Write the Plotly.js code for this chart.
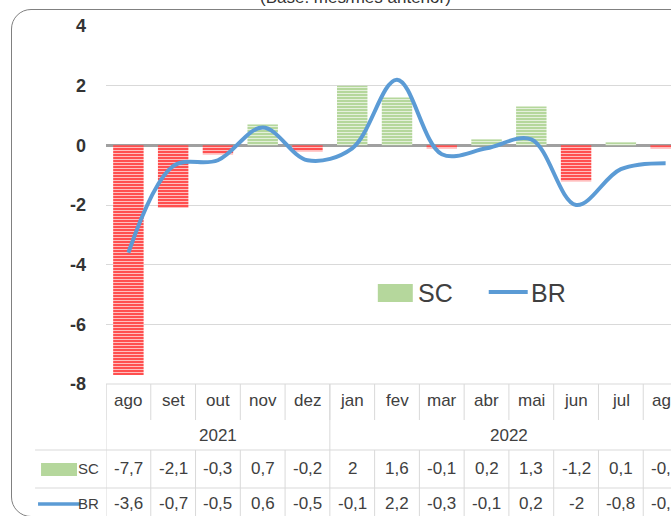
<!DOCTYPE html>
<html><head><meta charset="utf-8">
<script src="https://cdn.plot.ly/plotly-3.0.1.min.js"></script>
<style>
html,body{margin:0;padding:0;overflow:hidden;width:671px;height:516px;background:#fff}
#frame{position:absolute;left:11px;top:9px;width:720px;height:506px;border:1.5px solid #808080;border-radius:20px;}
#chart{position:absolute;left:0;top:0;}
</style></head>
<body>
<div id="frame"></div>
<div id="chart"></div>
<script>
// ---- data ----
const months = ['ago','set','out','nov','dez','jan','fev','mar','abr','mai','jun','jul','ago'];
const years = ['2021','2022'];
const yearFirst = [0, 5];
const yearLast = [4, 12];
const sc = [-7.7, -2.1, -0.3, 0.7, -0.2, 2, 1.6, -0.1, 0.2, 1.3, -1.2, 0.1, -0.1];
const br = [-3.6, -0.7, -0.5, 0.6, -0.5, -0.1, 2.2, -0.3, -0.1, 0.2, -2, -0.8, -0.6];
const yTickVals = [4, 2, 0, -2, -4, -6, -8];
const yTickText = ['4', '2', '0', '-2', '-4', '-6', '-8'];
const seriesNames = ['SC', 'BR'];
const titleText = '(Base: mês/mês anterior)';

// ---- geometry helpers (layout only) ----
const W = 700, H = 516;
const L = 106, R = 11.6, T = 26, B = 132;
const PW = W - L - R, PH = H - T - B;
const px = p => (p - L) / PW;          // pixel x -> paper
const py = p => (H - B - p) / PH;      // pixel y -> paper

const RED = '#ff4f4f', GREEN = '#b5d79c', BLUE = '#5b9bd5', TXT = '#404040', GRID = '#d9d9d9';
const FONT = '"Liberation Sans Narrow", "Arial Narrow", "Liberation Sans", sans-serif';

const idx = months.map((_, i) => i);
const scNeg = sc.map(v => v < 0 ? v : null);
const scPos = sc.map(v => v >= 0 ? v : null);
const fmt = v => String(v).replace('.', ',');

const pat = {shape: '-', fgcolor: '#ffffff', fgopacity: 0.7, size: 3, solidity: 0.3, fillmode: 'overlay'};
const traces = [
  {type: 'bar', x: idx, y: scNeg, width: 0.68, name: seriesNames[0],
   marker: {color: RED, line: {width: 0}, pattern: pat}, hoverinfo: 'skip'},
  {type: 'bar', x: idx, y: scPos, width: 0.68, name: seriesNames[0],
   marker: {color: GREEN, line: {width: 0}, pattern: pat}, hoverinfo: 'skip'},
  {type: 'scatter', mode: 'lines', x: idx, y: br, name: seriesNames[1],
   line: {color: BLUE, width: 4, shape: 'spline', smoothing: 1}, hoverinfo: 'skip'}
];

const ann = [];
const shapes = [];
const cellFont = {family: FONT, size: 17, color: TXT};

// month row
months.forEach((m, i) => ann.push({xref: 'x', yref: 'paper', x: i, y: py(400), text: m, showarrow: false, font: cellFont, xanchor: 'center', yanchor: 'middle'}));
// year row
years.forEach((y, k) => ann.push({xref: 'x', yref: 'paper', x: (yearFirst[k] + yearLast[k]) / 2, y: py(435), text: y, showarrow: false, font: cellFont, xanchor: 'center', yanchor: 'middle'}));
// value rows
sc.forEach((v, i) => ann.push({xref: 'x', yref: 'paper', x: i, y: py(468), text: fmt(v), showarrow: false, font: cellFont, xanchor: 'center', yanchor: 'middle'}));
br.forEach((v, i) => ann.push({xref: 'x', yref: 'paper', x: i, y: py(503), text: fmt(v), showarrow: false, font: cellFont, xanchor: 'center', yanchor: 'middle'}));
// row keys
ann.push({xref: 'paper', yref: 'paper', x: px(101), y: py(468), text: seriesNames[0], showarrow: false, font: {family: FONT, size: 15, color: TXT}, xanchor: 'right', yanchor: 'middle'});
ann.push({xref: 'paper', yref: 'paper', x: px(101), y: py(503), text: seriesNames[1], showarrow: false, font: {family: FONT, size: 15, color: TXT}, xanchor: 'right', yanchor: 'middle'});
// in-plot legend
ann.push({xref: 'paper', yref: 'paper', x: px(416), y: py(293), text: seriesNames[0], showarrow: false, font: {family: FONT, size: 25, color: TXT}, xanchor: 'left', yanchor: 'middle'});
ann.push({xref: 'paper', yref: 'paper', x: px(529), y: py(293), text: seriesNames[1], showarrow: false, font: {family: FONT, size: 25, color: TXT}, xanchor: 'left', yanchor: 'middle'});
// title (cut off at top)
ann.push({xref: 'paper', yref: 'paper', x: px(356), y: py(9), text: titleText, showarrow: false, font: {family: '"Liberation Sans", Arial, sans-serif', size: 17, color: '#333'}, xanchor: 'center', yanchor: 'bottom'});

// table lines
const ln = (xref, x0, x1, yref, y0, y1, color, w) => ({type: 'line', xref, yref, x0, x1, y0, y1, line: {color: color || GRID, width: w || 1}, layer: 'below'});
for (let k = 0; k <= months.length; k++) {
  const xb = k - 0.5;
  shapes.push(ln('x', xb, xb, 'paper', py(384), py(420)));
  shapes.push(ln('x', xb, xb, 'paper', py(450), py(520)));
}
yearFirst.forEach(f => shapes.push(ln('x', f - 0.5, f - 0.5, 'paper', py(384), py(450))));
shapes.push(ln('paper', px(35), 1.1, 'paper', py(450), py(450)));
shapes.push(ln('paper', px(35), 1.1, 'paper', py(488), py(488)));
shapes.push(ln('paper', 0, 1.1, 'paper', py(384), py(384)));

// swatches (legend keys)
function stripes(x0, x1, y0, y1) {
  shapes.push({type: 'rect', xref: 'paper', yref: 'paper', x0: px(x0), x1: px(x1), y0: py(y0), y1: py(y1), fillcolor: GREEN, line: {width: 0}});
  for (let y = y0 + 2.5; y < y1; y += 3) shapes.push(ln('paper', px(x0), px(x1), 'paper', py(y), py(y), 'rgba(255,255,255,0.7)', 1));
}
stripes(378, 413, 284, 302);
stripes(41, 77, 463, 476);
shapes.push({type: 'line', xref: 'paper', yref: 'paper', x0: px(489), x1: px(528), y0: py(292), y1: py(292), line: {color: BLUE, width: 4}});
shapes.push({type: 'line', xref: 'paper', yref: 'paper', x0: px(38), x1: px(80), y0: py(504), y1: py(504), line: {color: BLUE, width: 3.5}});

const layout = {
  width: W, height: H,
  margin: {l: L, r: R, t: T, b: B, pad: 0},
  paper_bgcolor: 'rgba(0,0,0,0)', plot_bgcolor: 'rgba(0,0,0,0)',
  showlegend: false,
  barmode: 'overlay',
  xaxis: {range: [-0.5, months.length - 0.5], showticklabels: false, showgrid: false, zeroline: false, showline: false, ticks: ''},
  yaxis: {range: [-8, 4], tickvals: yTickVals, ticktext: yTickText, showgrid: true, gridcolor: GRID, gridwidth: 1,
          zeroline: true, zerolinecolor: '#a0a0a0', zerolinewidth: 2.5, showline: false, ticks: '',
          ticklabelstandoff: 19, tickfont: {family: FONT, size: 18, color: '#333', weight: 'bold'}},
  annotations: ann,
  shapes: shapes
};
Plotly.newPlot('chart', traces, layout, {staticPlot: true, displayModeBar: false});
</script>
</body></html>
